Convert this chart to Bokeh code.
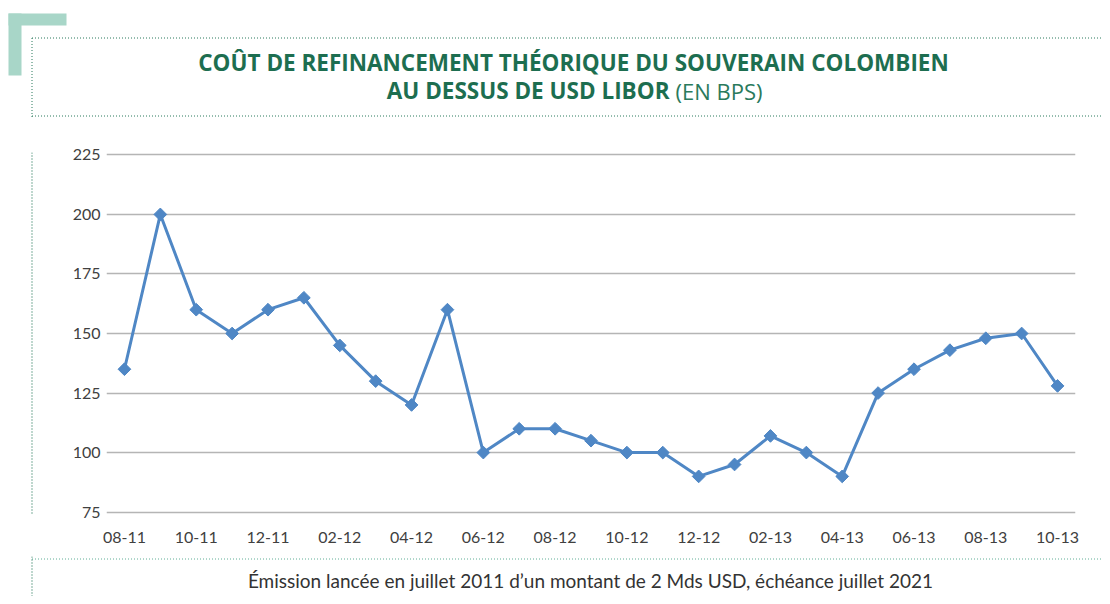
from bokeh.plotting import figure
from bokeh.models import FixedTicker, Range1d
from bokeh.layouts import column, row
from bokeh.core.properties import value
from bokeh.embed import file_html
from bokeh.resources import INLINE

# ---- data ----
months = ["08-11", "09-11", "10-11", "11-11", "12-11", "01-12", "02-12", "03-12", "04-12",
          "05-12", "06-12", "07-12", "08-12", "09-12", "10-12", "11-12", "12-12", "01-13",
          "02-13", "03-13", "04-13", "05-13", "06-13", "07-13", "08-13", "09-13", "10-13"]
spread_bps = [135, 200, 160, 150, 160, 165, 145, 130, 120, 160, 100, 110, 110, 105, 100,
              100, 90, 95, 107, 100, 90, 125, 135, 143, 148, 150, 128]
y_ticks = [75, 100, 125, 150, 175, 200, 225]

title_line1 = "COÛT DE REFINANCEMENT THÉORIQUE DU SOUVERAIN COLOMBIEN"
title_line2_bold = "AU DESSUS DE USD LIBOR"
title_line2_light = "(EN BPS)"
footer = "Émission lancée en juillet 2011 d\u2019un montant de 2 Mds USD, échéance juillet 2021"

# ---- style ----
W = 1102
TOP_H, MID_H, BOT_H = 118, 438, 40
LEFT_W = 40
FONT = "Lato"
TITLE_FONT = "Open Sans"
GREEN = "#1d6e50"
TEAL = "#a8d6c8"
DOT = "#2a7a5d"
DOT_LIGHT = "#5fae96"
LINE_BLUE = "#4f87c5"
DOT_X = 31.5


def canvas_fig(w, h):
    f = figure(width=w, height=h, output_backend="svg", toolbar_location=None,
               x_range=Range1d(0, w), y_range=Range1d(h, 0),
               min_border=0, min_border_left=0, min_border_right=0,
               min_border_top=0, min_border_bottom=0)
    f.axis.visible = False
    f.grid.visible = False
    f.outline_line_color = None
    f.background_fill_color = "white"
    f.border_fill_color = "white"
    return f


# ---- top: decoration + title ----
top = canvas_fig(W, TOP_H)
top.quad(left=[8, 8], right=[66, 21], top=[13, 13], bottom=[25, 75], fill_color=TEAL, line_color=None)
top.segment(x0=[DOT_X, DOT_X, DOT_X], y0=[37.5, 115.5, 37.5], x1=[W, W, DOT_X], y1=[37.5, 115.5, TOP_H],
            line_color=DOT, line_width=1, line_dash="1 2")
top.text(x=[573], y=[62], text=[title_line1], text_font=value(TITLE_FONT), text_font_style="bold",
         text_font_size="22.5px", text_color=GREEN, text_align="center", text_baseline="middle")
top.text(x=[669], y=[90], text=[title_line2_bold], text_font=value(TITLE_FONT), text_font_style="bold",
         text_font_size="22.5px", text_color=GREEN, text_align="right", text_baseline="middle")
top.text(x=[675], y=[90], text=[title_line2_light], text_font=value(TITLE_FONT), text_font_style="normal",
         text_font_size="22px", text_color="#2a7a5c", text_align="left", text_baseline="middle")

# ---- middle: left strip with dotted line + chart ----
strip = canvas_fig(LEFT_W, MID_H)
strip.segment(x0=[DOT_X], y0=[0], x1=[DOT_X], y1=[MID_H], line_color=DOT, line_width=1.2, line_dash="1 2")

xs = list(range(len(months)))
p = figure(width=W - LEFT_W, height=MID_H, output_backend="svg", toolbar_location=None,
           x_range=Range1d(-0.5, len(months) - 0.5), y_range=Range1d(74, 226),
           min_border_left=66, min_border_right=27, min_border_top=34, min_border_bottom=42)
p.outline_line_color = None
p.background_fill_color = "white"
p.border_fill_color = "white"

p.line(xs, spread_bps, line_color=LINE_BLUE, line_width=3)
p.scatter(xs, spread_bps, marker="square", angle=0.785398, size=9,
          fill_color=LINE_BLUE, line_color=LINE_BLUE)

p.xaxis.ticker = FixedTicker(ticks=xs[::2])
p.xaxis.major_label_overrides = {i: months[i] for i in xs}
p.xaxis.axis_line_color = None
p.xaxis.major_tick_line_color = None
p.xaxis.minor_tick_line_color = None
p.xaxis.major_label_standoff = 11
p.xaxis.major_label_text_font = FONT
p.xaxis.major_label_text_font_size = "16px"
p.xaxis.major_label_text_color = "#404040"

p.yaxis.ticker = FixedTicker(ticks=y_ticks)
p.yaxis.axis_line_color = None
p.yaxis.major_tick_line_color = None
p.yaxis.minor_tick_line_color = None
p.yaxis.major_label_standoff = 0
p.yaxis.major_label_text_font = FONT
p.yaxis.major_label_text_font_size = "16px"
p.yaxis.major_label_text_color = "#404040"

p.xgrid.grid_line_color = None
p.ygrid.ticker = FixedTicker(ticks=y_ticks)
p.ygrid.grid_line_color = "#b5b5b5"
p.ygrid.grid_line_width = 1.5

# ---- bottom: footer ----
bot = canvas_fig(W, BOT_H)
bot.segment(x0=[DOT_X], y0=[2.5], x1=[W], y1=[2.5], line_color=DOT_LIGHT, line_width=1, line_dash="1 2")
bot.segment(x0=[DOT_X], y0=[0], x1=[DOT_X], y1=[BOT_H], line_color=DOT, line_width=1.2, line_dash="1 2")
bot.text(x=[590], y=[24], text=[footer], text_font=value(FONT), text_font_size="19px",
         text_color="#333333", text_align="center", text_baseline="middle")

layout = column(top, row(strip, p, spacing=0), bot, spacing=0)
open("out.html", "w").write(file_html(layout, INLINE))
